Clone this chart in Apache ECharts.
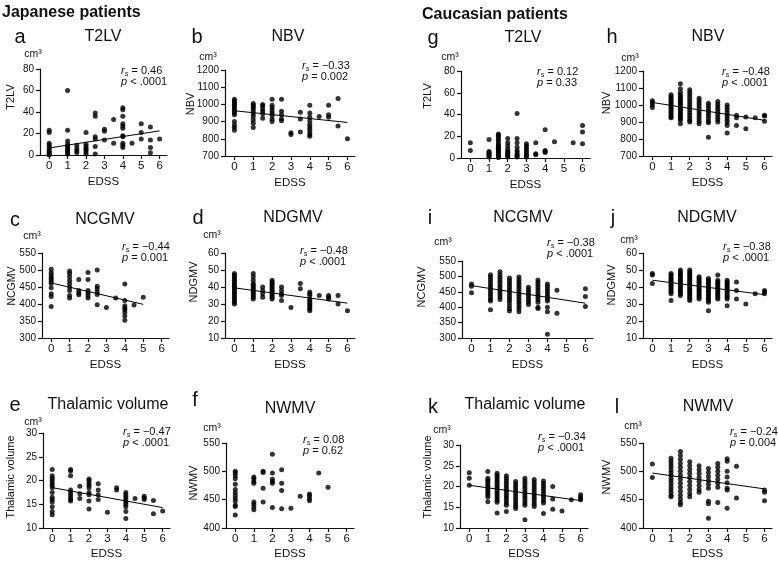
<!DOCTYPE html>
<html><head><meta charset="utf-8">
<script src="https://cdn.jsdelivr.net/npm/echarts@6/dist/echarts.min.js"></script>
<style>html,body{margin:0;padding:0;background:#fff}#c{width:778px;height:561px}</style>
</head><body><div id="c"></div>
<script>
// ---------- texts ----------
const groupTitles = ['Japanese patients', 'Caucasian patients'];
const panelLetters = ['a','b','c','d','e','f','g','h','i','j','k','l'];
const panelTitles = ['T2LV','NBV','NCGMV','NDGMV','Thalamic volume','NWMV','T2LV','NBV','NCGMV','NDGMV','Thalamic volume','NWMV'];
const yNames = ['T2LV','NBV','NCGMV','NDGMV','Thalamic volume','NWMV','T2LV','NBV','NCGMV','NDGMV','Thalamic volume','NWMV'];
const rsValues = ['0.46','\u22120.33','\u22120.44','\u22120.48','\u22120.47','0.08','0.12','\u22120.48','\u22120.38','\u22120.38','\u22120.34','\u22120.24'];
const pValues = ['< .0001','= 0.002','= 0.001','< .0001','< .0001','= 0.62','= 0.33','< .0001','< .0001','< .0001','< .0001','= 0.004'];
const xName = 'EDSS';
const unitLabel = 'cm\u00B3';

// ---------- axes ----------
const edssTicks = [0,1,2,3,4,5,6];
const yMins = [0,700,300,10,10,400,0,700,300,10,10,400];
const yMaxs = [80,1200,550,60,30,550,80,1200,550,60,30,550];
const ySteps = [20,100,50,10,5,50,20,100,50,10,5,50];

// ---------- data: [EDSS, [values...]] ----------
const jpT2LV = [
 [0,[23,21,11,9,7,5,3,2,1,0]],[1,[60,23,13,10,8,7,5,4,2,1]],[1.5,[9,6,4,2]],
 [2,[21,10,8,6,5,3,1]],[2.5,[39,36,17,15,8,1]],[3,[24,22,14]],[3.5,[33,11]],
 [4,[44,42,36,29,27,25,18,17,11,9,7]],[4.5,[11]],[5,[29,21,15]],[5.5,[26,14,7,2]],[6,[15]]];
const jpNBV = [
 [0,[1030,1020,1010,1000,990,980,970,960,950,940,900,880,865,850]],
 [1,[1005,995,985,975,960,945,930,910,890,865]],[1.5,[1000,990,975,960,945,920]],
 [2,[1030,995,980,965,950,935,915,900]],[2.5,[1030,960,940,915,905]],[3,[835,825]],
 [3.5,[955,915,840]],[4,[995,950,925,905,885,870,855,840,825,815]],[4.5,[930]],
 [5,[995,940,925]],[5.5,[1035,875]],[6,[800]]];
const jpNCGMV = [
 [0,[502,493,485,478,472,466,460,448,430,422,393]],[1,[497,490,480,470,460,450,440,425,418]],
 [1.5,[472,440,432,427]],[2,[493,472,440,433,425,418]],[2.5,[500,452,445,435,428,398]],
 [3,[390]],[3.5,[418]],[4,[459,410,395,388,383,375,365,352]],[4.5,[397]],[5,[420]]];
const jpNDGMV = [
 [0,[48,47,46,45,44,43,42,41,40,39,38,37,36,35,34,33,32,31,30]],
 [1,[48,46,44,42,41,40,39,38,37,36,35,34,33]],[1.5,[40,38,36,34]],
 [2,[44,43,42,41,40,39,38,37,36,35,34,33]],[2.5,[40,38,36,35,32]],[3,[28]],[3.5,[42,39]],
 [4,[37,36,35,33,32,31,30,29,28,27,26]],[4.5,[35]],[5,[35,34,33]],[5.5,[35,30]],[6,[26]]];
const jpThal = [
 [0,[22.3,21,20.5,20,19.5,19,18.5,17.5,16.5,16,15.5,14.5,13.5,12.8]],
 [1,[22.3,22,21,18,17.5,17,16.5,16,15.7]],[1.5,[18.8,17.2,16.2]],
 [2,[20.3,20,19.5,19,18.5,17.5,17,15.7,14]],[2.5,[19.3,18,17,16]],[3,[13.3]],[3.5,[18.5,18]],
 [4,[17.5,17,16.5,16,15.5,15,14.5,13.5,12]],[4.5,[16.2]],[5,[16.7,16.3,16]],[5.5,[15.8,13]],[6,[13.6]]];
const jpNWMV = [
 [0,[500,497,492,487,477,468,462,457,452,447,440,438,423]],[1,[490,487,482,479,446,442,437,432]],
 [1.5,[500,498,470,446]],[2,[530,497,486,482,479,436]],[2.5,[503,479,466,434]],[3,[435]],
 [3.5,[456]],[4,[460,457,452,448]],[4.5,[497]],[5,[472]]];
const cauT2LV = [
 [0,[14,7]],[1,[17,6,5,4,3,2,1]],[1.5,[22,21,20,18,16,14,12,11,10,9,8,7,6,5,4,3,2,1,0.5]],
 [2,[18,14,11,8,6,5,4,3,2,1]],[2.5,[41,18,14,10,7,5,3,2,1]],[3,[13,11,9,7,5,3,2,1]],
 [3.5,[14,4,3]],[4,[26,7,6,5]],[4.5,[15]],[5.5,[14]],[6,[30,24,13]]];
const cauNBV = [
 [0,[1025,1015,1000,985]],
 [1,[1060,1050,1040,1030,1020,1010,1000,990,980,970,960,950,940,930,925]],
 [1.5,[1125,1095,1075,1060,1050,1040,1030,1020,1010,1000,990,980,970,960,950,940,930,920,910,890]],
 [2,[1090,1075,1060,1045,1030,1015,1000,985,970,955,940,925,910,900]],
 [2.5,[1040,1025,1010,995,980,965,950,935,920,905,890]],
 [3,[1010,995,980,965,950,935,920,905,895,810]],
 [3.5,[1020,1005,990,975,960,945,930,915,900]],
 [4,[1000,985,970,955,940,925,910,895,880,835]],
 [4.5,[940,925,880]],[5,[930,860]],[5.5,[925]],[6,[940,935,905]]];
const cauNCGMV = [
 [0,[475,468,447]],
 [1,[505,498,490,482,474,466,458,450,442,434,426,420,392]],
 [1.5,[515,505,497,489,481,473,465,457,449,441,433,425]],
 [2,[495,487,479,471,463,455,447,439,431,423,415,405,395,388]],
 [2.5,[498,490,482,474,466,458,450,442,434,426,418,410,402,394,385]],
 [3,[465,457,449,441,433,425,417,409]],
 [3.5,[488,480,472,464,456,448,440,432,424,416,400,396]],
 [4,[475,467,459,451,443,435,427,420,400,385,312]],
 [4.5,[455,380]],[6,[460,435,402]]];
const cauNDGMV = [
 [0,[48,47,42]],
 [1,[48,47,46,45,44,43,42,41,40,39,38,37,36,32]],
 [1.5,[50,49,48,47,46,45,44,43,42,41,40,39,38,37,36,35]],
 [2,[50,49,48,47,46,45,44,43,42,41,40,39,38,37,36,35,34,33,32]],
 [2.5,[46,45,44,43,42,41,40,39,38,37,36,35,34,33]],
 [3,[45,44,43,42,41,40,39,38,37,36,35,34,33,32,31,26]],
 [3.5,[47,44,43,42,41,40,39,38,37,36,35,34,33]],
 [4,[44,43,42,41,40,39,38,37,36,35,34,33,29]],
 [4.5,[43,38,33]],[5,[30]],[5.5,[36]],[6,[38,37,36]]];
const cauThal = [
 [0,[23.3,22,20.3]],
 [1,[23.6,22,21.5,21,20.5,20,19.5,19,18.5,18,17.5,16.3]],
 [1.5,[23.2,22.7,22.2,21.7,21.2,20.7,20.2,19.7,19.2,18.7,18.2,17.7,17.2,16.7,16.2,13.6]],
 [2,[22.6,22,21.4,20.8,20.2,19.6,19,18.4,17.8,17.2,16.6,16,15.5,14]],
 [2.5,[21.2,20.6,20,19.4,18.8,18.2,17.6,17,16.4,15.8,15.2,14.7]],
 [3,[22,21.4,20.8,20.2,19.6,19,18.4,17.8,17.2,16.6,16,15.5,12]],
 [3.5,[21.7,21.1,20.5,19.9,19.3,18.7,18.1,17.5,16.9,16.3,15.7,15.2]],
 [4,[21.3,20.7,20.1,19.5,18.9,18.3,17.7,17.1,16.5,16,13.5]],
 [4.5,[20,17,14.5]],[5,[14.1]],[5.5,[16.8]],[6,[18,17.5,17,16.8]]];
const cauNWMV = [
 [0,[513,489]],
 [1,[523,518,513,508,503,498,493,488,483,478,473,468,463,458,455]],
 [1.5,[535,528,521,514,507,500,493,486,479,472,465,458,451,445,441]],
 [2,[517,510,503,496,489,482,475,468,461,455]],
 [2.5,[510,503,496,489,482,475,468,463]],
 [3,[505,498,491,484,477,470,447,443,417]],
 [3.5,[514,507,500,493,486,479,472,445]],
 [4,[522,518,500,490,480,470,467,435]],
 [4.5,[509,453]],[6,[467,463,448]]];

// regression lines (start, end), null where none drawn
const fitA = [[0,6.5],[6,22.5]];
const fitB = [[0,963],[6,895]];
const fitC = [[0,462],[5,399]];
const fitD = [[0,39.5],[6,30.5]];
const fitE = [[0,18.5],[6,14.3]];
const fitF = null;
const fitG = null;
const fitH = [[0,1015],[6,910]];
const fitI = [[0,470],[6,413]];
const fitJ = [[0,44],[6,35.5]];
const fitK = [[0,20.3],[6,16.6]];
const fitL = [[0,497],[6,469]];

const panelData = [jpT2LV,jpNBV,jpNCGMV,jpNDGMV,jpThal,jpNWMV,cauT2LV,cauNBV,cauNCGMV,cauNDGMV,cauThal,cauNWMV];
const panelFits = [fitA,fitB,fitC,fitD,fitE,fitF,fitG,fitH,fitI,fitJ,fitK,fitL];

// ---------- layout (pixels) ----------
const layout = [
 {g:[40,69,127,86],  L:[20,37],  T:[103,37], cm:[33,54],  yn:[11,97,11],  st:[121,71]},
 {g:[225,70,130,86], L:[197,37], T:[288,37], cm:[208,57], yn:[191,104,11], st:[302,66]},
 {g:[42,253,127,85], L:[15,220], T:[105,220],cm:[32,236], yn:[12,286,10.5], st:[122,247]},
 {g:[225,253,130,85],L:[198,218],T:[293,218],cm:[212,235],yn:[194,282,11], st:[300,251]},
 {g:[43,433,127,95], L:[15,405], T:[108,405],cm:[33,422], yn:[11,477,11], st:[123,432]},
 {g:[226,443,128,85],L:[195,400],T:[290,409],cm:[212,428],yn:[194,483,11], st:[303,440]},
 {g:[461,71,129,87], L:[433,38], T:[523,38], cm:[450,57], yn:[428,96,11], st:[537,72]},
 {g:[643,71,129,85], L:[612,37], T:[708,37], cm:[630,58], yn:[607,103,11], st:[722,72]},
 {g:[462,261,131,77],L:[430,218],T:[523,218],cm:[443,242],yn:[422,287,11], st:[547,243]},
 {g:[643,253,129,85],L:[613,218],T:[707,218],cm:[629,240],yn:[612,285,11], st:[723,247]},
 {g:[460,445,128,85],L:[433,407],T:[525,405],cm:[442,430],yn:[428,477,11], st:[538,437]},
 {g:[643,443,129,85],L:[617,407],T:[708,407],cm:[633,426],yn:[607,477,11], st:[730,432]}
];
const groupTitlePos = [[2,13],[422,15]];

const FONT = '"Liberation Sans", Arial, sans-serif';
const INK = '#111';

function points(cols){ const out=[]; cols.forEach(c => c[1].forEach(v => out.push([c[0], v]))); return out; }

const grids=[], xAxes=[], yAxes=[], series=[], graphics=[];
panelData.forEach((cols, i) => {
  const l = layout[i];
  grids.push({left:l.g[0], top:l.g[1], width:l.g[2], height:l.g[3]});
  xAxes.push({gridIndex:i, type:'value', min:-0.5, max:6.4,
    axisLine:{show:true, onZero:false, lineStyle:{color:INK, width:1.2}},
    axisTick:{show:true, customValues:edssTicks, length:4, lineStyle:{color:INK, width:1.2}},
    axisLabel:{customValues:edssTicks, fontSize:11.5, color:INK, margin:5, fontFamily:FONT, formatter:v=>String(v)},
    splitLine:{show:false},
    name:xName, nameLocation:'middle', nameGap:i%6>=4?20:21,
    nameTextStyle:{fontSize:11.5, color:INK, fontFamily:FONT}});
  yAxes.push({gridIndex:i, type:'value', min:yMins[i], max:yMaxs[i], interval:ySteps[i],
    axisLine:{show:true, onZero:false, lineStyle:{color:INK, width:1.2}},
    axisTick:{show:true, length:4, lineStyle:{color:INK, width:1.2}},
    axisLabel:{fontSize:10, color:INK, margin:6, fontFamily:FONT, formatter:v=>String(v)},
    splitLine:{show:false}});
  series.push({type:'scatter', xAxisIndex:i, yAxisIndex:i, data:points(cols),
    symbol:'circle', symbolSize:5, itemStyle:{color:'#000'}, silent:true});
  if (panelFits[i]) series.push({type:'line', xAxisIndex:i, yAxisIndex:i, data:panelFits[i],
    symbol:'none', lineStyle:{color:'#000', width:1}, silent:true});

  graphics.push({type:'text', x:l.L[0], y:l.L[1], style:{text:panelLetters[i], font:'20px '+FONT, fill:INK, align:'center', verticalAlign:'middle'}});
  graphics.push({type:'text', x:l.T[0], y:l.T[1], style:{text:panelTitles[i], font:'16px '+FONT, fill:INK, align:'center', verticalAlign:'middle'}});
  graphics.push({type:'text', x:l.cm[0], y:l.cm[1], style:{text:unitLabel, font:'10.5px '+FONT, fill:INK, align:'center', verticalAlign:'middle'}});
  graphics.push({type:'text', x:l.yn[0], y:l.yn[1], rotation:Math.PI/2, style:{text:yNames[i], font:l.yn[2]+'px '+FONT, fill:INK, align:'center', verticalAlign:'middle'}});
  const rich = {i:{fontStyle:'italic', fontSize:11, fontFamily:FONT, fill:INK, lineHeight:14},
                s:{fontStyle:'italic', fontSize:7.5, fontFamily:FONT, fill:INK, verticalAlign:'bottom', lineHeight:9},
                n:{fontSize:11, fontFamily:FONT, fill:INK, lineHeight:14}};
  graphics.push({type:'text', x:l.st[0], y:l.st[1], style:{text:'{i|r}{s|s}{n| = '+rsValues[i]+'}', rich:rich, align:'left', verticalAlign:'middle'}});
  graphics.push({type:'text', x:l.st[0], y:l.st[1]+11, style:{text:'{i|p}{n| '+pValues[i]+'}', rich:rich, align:'left', verticalAlign:'middle'}});
});
groupTitles.forEach((t, k) => graphics.push({type:'text', x:groupTitlePos[k][0], y:groupTitlePos[k][1],
  style:{text:t, font:'bold 16px '+FONT, fill:INK, align:'left', verticalAlign:'middle'}}));

const chart = echarts.init(document.getElementById('c'), null, {renderer:'canvas'});
chart.setOption({animation:false, backgroundColor:'#fff', grid:grids, xAxis:xAxes, yAxis:yAxes, series:series, graphic:graphics});
</script></body></html>
